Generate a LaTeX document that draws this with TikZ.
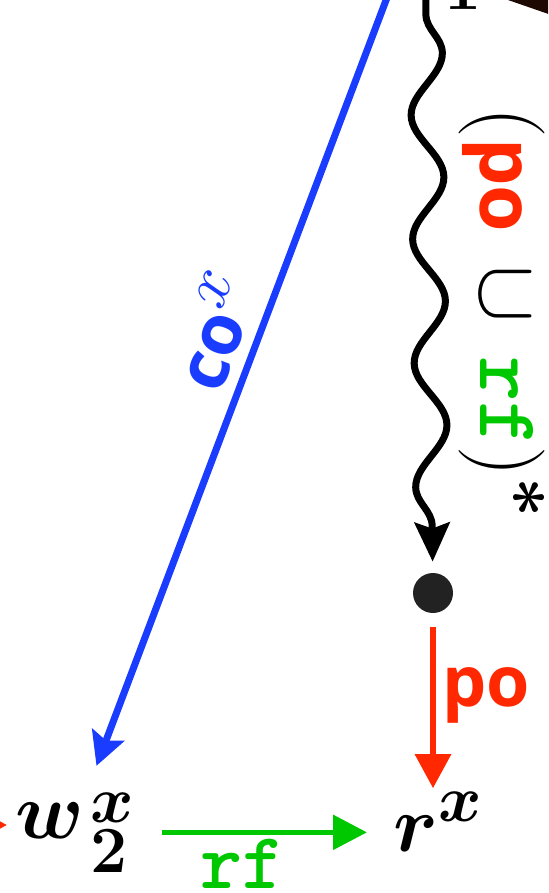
\RequirePackage{fix-cm}
\documentclass[tikz,border=0pt]{standalone}
\usepackage{fontspec}
\newfontfamily\relfont{Open Sans}[Scale=0.875]
\usetikzlibrary{arrows.meta, decorations.pathmorphing}
\DeclareMathSizes{40}{40}{33}{24}
\DeclareMathSizes{43}{43}{35}{26}

\definecolor{coblue}{RGB}{25,60,255}
\definecolor{pored}{RGB}{255,40,0}
\definecolor{rfgreen}{RGB}{0,200,0}
\definecolor{dotgray}{RGB}{34,34,34}
\definecolor{hbdark}{RGB}{30,8,2}

\newcommand{\relpo}{\textcolor{pored}{\relfont\bfseries po}}
\newcommand{\relrf}{\textcolor{rfgreen}{\ttfamily\bfseries rf}}
% event with index and location
\newcommand{\evt}[3]{$#1$\kern3pt\rlap{\raisebox{8pt}{$\scriptstyle #3$}}%
  \raisebox{-17pt}{$\scriptstyle #2$}}

\tikzset{
  event/.style={inner sep=2pt, font=\fontsize{40}{48}\selectfont\boldmath},
  lbl/.style={inner sep=2pt, font=\fontsize{40}{48}\selectfont},
  dotnode/.style={circle, fill=dotgray, minimum size=20pt, inner sep=0pt},
  coedge/.style={-{Stealth[length=16.5pt, width=17pt, inset=3pt]},
                 line width=3.5pt, coblue},
  poedge/.style={-{Triangle[length=17pt, width=17.5pt]},
                 line width=3pt, pored},
  rfedge/.style={-{Triangle[length=17pt, width=17pt]},
                 line width=2.8pt, rfgreen},
  hbedge/.style={-{Stealth[length=19.5pt, width=17.5pt, inset=3pt]},
                 line width=3.5pt, line cap=round, decorate,
                 decoration={snake, amplitude=8pt, segment length=62pt,
                             post length=18pt}},
}

\begin{document}
\begin{tikzpicture}[x=0.5pt, y=-0.5pt]

  \useasboundingbox (0,0) rectangle (548,893);
  \clip (0,0) rectangle (548,893);

  \node[event, anchor=base west] (w1) at (365,-24) {\evt{w}{1}{x}};
  \node[event, anchor=base west] (w2) at (11,838) {\evt{w}{2}{x}};
  \node[event, anchor=base west] (r) at (389,851) {$r^x$};
  \node[dotnode] (m) at (433,593) {};

  % edges that leave the frame
  \coordinate (cutl) at (-160,825);
  \draw[poedge, shorten >=2pt] (cutl) -- (cutl -| w2.west);
  \fill[hbdark] (508,0) -- (560,0) -- (560,18) -- cycle;

  \draw[coedge, shorten >=12pt] ([xshift=-14pt]w1.center) -- (w2)
    node[pos=0.46, sloped, above, lbl, inner sep=5.5pt, text=coblue]
    {{\relfont\bfseries co}$^{x}$};

  \draw[hbedge, shorten <=8pt, shorten >=5.5pt] (w1) -- (m)
    node[pos=0.535, lbl, font=\fontsize{43}{50}\selectfont, inner sep=0pt,
         xshift=36pt, rotate=-90]
    {$(\mbox{\relpo}\mskip3mu\cup\mskip3mu\mbox{\relrf})^{\mbox{\boldmath$\scriptstyle *$}}$};

  \draw[poedge, shorten <=7pt] (m) -- (m |- r.north)
    node[pos=0.47, right, lbl, inner sep=3pt, text=pored]
    {\relfont\bfseries po};

  \draw[rfedge, shorten <=15pt, shorten >=11pt] (w2.east) -- (w2.east -| r.west)
    node[pos=0.43, below, lbl] {\relrf};

\end{tikzpicture}
\end{document}
